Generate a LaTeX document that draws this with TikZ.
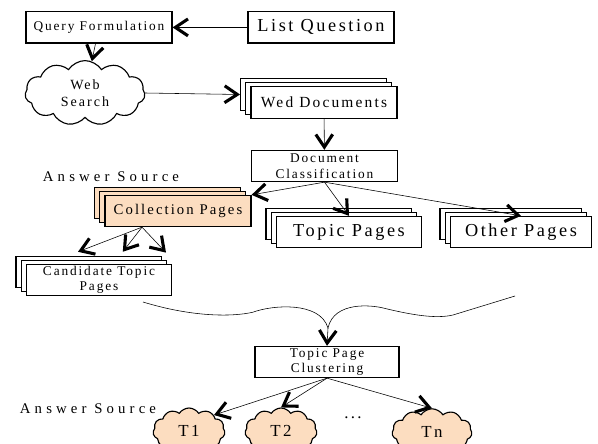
\documentclass[tikz,border=0pt]{standalone}
\usepackage{fontspec}
\setmainfont{Liberation Serif}[LetterSpace=14]
\newfontfamily\widefont{Liberation Serif}[LetterSpace=28]
\usetikzlibrary{shapes,arrows.meta}
\definecolor{peach}{RGB}{252,221,192}
\tikzset{box/.style={draw,rectangle,thick,fill=white,align=center,inner sep=1pt,minimum height=0.78cm},
  small/.style={font=\fontsize{9.5}{11}\selectfont},
  mid/.style={font=\fontsize{10.5}{12}\selectfont},
  big/.style={font=\fontsize{13}{15}\selectfont},
  >={Straight Barb[length=9pt,width=12pt,line width=2.2pt]}}
\newcommand{\procbox}[6]{\node[box,#6,minimum width=#4cm] (#1) at (#2,#3) {#5};}
\newcommand{\pages}[7]{\node[box,fill=#5,minimum width=#4cm] (#1-2) at (#2-0.26,#3+0.2) {};
  \node[box,fill=#5,minimum width=#4cm] (#1-1) at (#2-0.13,#3+0.1) {};
  \node[box,fill=#5,minimum width=#4cm,#6] (#1) at (#2,#3) {#7};}
\newcommand{\webcloud}[7]{\node[cloud,draw,thick,fill=#6,cloud puffs=11,cloud puff arc=115,aspect=2,align=center,minimum width=#4cm,minimum height=#5cm] (#1) at (#2,#3) {#7};}
\newcommand{\link}[2]{\draw[->] (#1) -- (#2);}

\begin{document}
\begin{tikzpicture}
    \useasboundingbox (0,0) rectangle (14.95,11.075);
    \procbox{query}{2.475}{10.39}{3.65}{Query Formulation}{small}
    \procbox{list}{8.025}{10.39}{3.65}{List Question}{big}
    \webcloud{search}{2.125}{8.75}{3.0}{1.43}{white}{\fontsize{10}{10.5}\selectfont Web\\\fontsize{10}{10.5}\selectfont Search}
    \pages{wed}{8.1}{8.5125}{3.65}{white}{font=\fontsize{11}{12}\selectfont}{Wed Documents}
    \procbox{classif}{8.1125}{6.925}{3.63}{Document\\Classification}{small}
    \node[font=\widefont\fontsize{10.5}{12}\selectfont] (ans1) at (2.775,6.65) {Answer Source};
    \pages{coll}{4.45}{5.8}{3.65}{peach}{mid}{Collection Pages}
    \pages{topic}{8.725}{5.275}{3.63}{white}{big}{Topic Pages}
    \pages{other}{13.025}{5.275}{3.53}{white}{big}{Other Pages}
    \pages{cand}{2.475}{4.075}{3.63}{white}{small}{Candidate Topic\\Pages}
    \procbox{cluster}{8.175}{2.025}{3.6}{Topic Page\\Clustering}{small}
    \node[font=\widefont\fontsize{10.5}{12}\selectfont] (ans2) at (2.2,0.85) {Answer Source};
    \webcloud{t1}{4.725}{0.3}{1.8}{1.15}{peach}{\large T1}
    \webcloud{t2}{7.025}{0.3}{1.8}{1.15}{peach}{\large T2}
    \webcloud{tn}{10.8}{0.28}{2.0}{1.15}{peach}{\large Tn}
    \node[font=\large] (dots) at (8.825,0.625) {...};
    \coordinate (c1) at (1.95,4.78); \coordinate (c2) at (3.07,4.78); \coordinate (c3) at (4.15,4.76);
    \coordinate (tip) at (8.2,2.875);
    \link{list}{query}\link{query}{search}\link{search.east}{wed-2.west}\link{wed}{classif}
    \link{classif.south}{coll.north east}\link{classif.south}{topic.north}\link{classif.south}{other.north}
    \draw[->] ([xshift=-0.9cm]coll.south) -- (c1); \draw[->] ([xshift=-0.9cm]coll.south) -- (c2);
    \draw[->] ([xshift=-0.9cm]coll.south) -- (c3);
    \draw (3.575,3.525) .. controls (4.8,3.15) and (5.8,3.15) .. (6.325,3.27) .. controls (6.8,3.45) and (8.0,3.55) .. (tip)
      .. controls (8.35,3.55) and (9.3,3.45) .. (9.6,3.37) .. controls (10.3,3.2) and (10.9,3.1) .. (11.325,3.2) -- (12.875,3.675);
    \link{tip}{cluster.north}
    \link{cluster.south}{t1.north east}\link{cluster.south}{t2.north}\link{cluster.south}{tn.north}
\end{tikzpicture}
\end{document}
